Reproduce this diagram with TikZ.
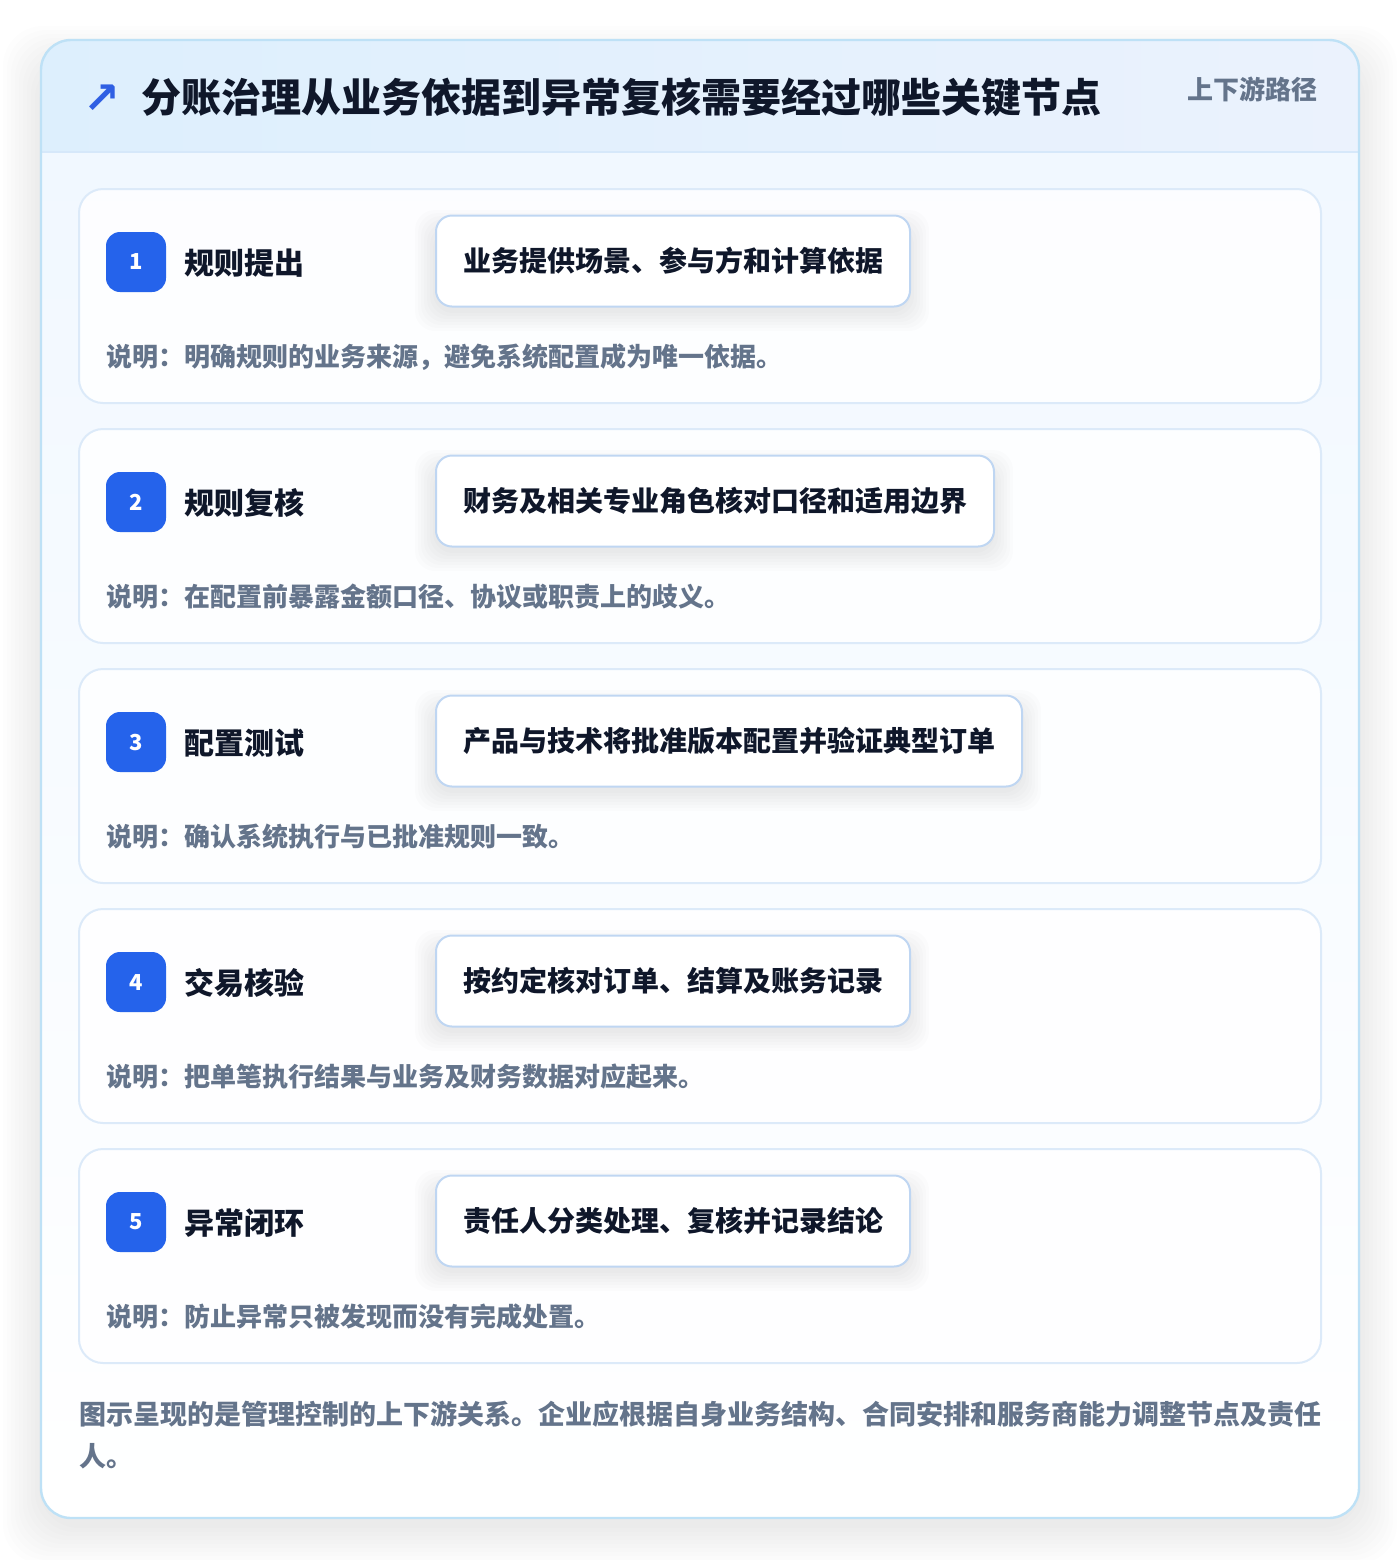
\documentclass[tikz,border=0pt]{standalone}
\usepackage{fontspec}
\setmainfont{Noto Sans CJK SC}
\newfontfamily\symfont{DejaVu Sans}

\definecolor{brandblue}{HTML}{2563EB}
\definecolor{arrowblue}{HTML}{2F5FE3}
\definecolor{inkdark}{HTML}{0F172A}
\definecolor{slategray}{HTML}{64748B}
\definecolor{cardline}{HTML}{DCEAF9}
\definecolor{boxline}{HTML}{BFD6F2}
\definecolor{frameline}{HTML}{BEE1F6}
\definecolor{headleft}{HTML}{DDEFFD}
\definecolor{headright}{HTML}{EBF2FD}
\definecolor{headline}{HTML}{D6E8FA}
\definecolor{bodytop}{HTML}{F1F8FF}
\definecolor{shadowgray}{HTML}{1E293B}

\begin{document}
\begin{tikzpicture}[x=0.5pt, y=-0.5pt,
  card/.style={draw=cardline, line width=1pt, fill=white, fill opacity=0.85, text opacity=1,
    rounded corners=12pt, minimum width=621pt, minimum height=107pt, inner sep=0pt},
  badge/.style={fill=brandblue, rounded corners=7pt, minimum size=30pt, inner sep=0pt,
    text=white, font=\fontsize{11pt}{13pt}\selectfont\bfseries},
  steptitle/.style={anchor=west, inner sep=0pt, text=inkdark, font=\fontsize{15pt}{18pt}\selectfont\bfseries},
  taskbox/.style={anchor=west, draw=boxline, line width=1pt, fill=white, rounded corners=8pt,
    minimum height=45.5pt, inner xsep=13.5pt, inner ysep=0pt, text=inkdark,
    font=\fontsize{14pt}{17pt}\selectfont\bfseries},
  boxshade/.style={fill=shadowgray, fill opacity=0.012, rounded corners=10pt},
  note/.style={anchor=west, inner sep=0pt, text=slategray, font=\fontsize{13pt}{15pt}\selectfont\bfseries},
  footnote/.style={anchor=west, inner sep=0pt, text=slategray, font=\fontsize{13.5pt}{16pt}\selectfont\bfseries}]
\useasboundingbox [fill=white] (0,0) rectangle (1400,1560);

% soft shadow under the frame
\foreach \s in {2,6,...,38}
  \fill [shadowgray, fill opacity=0.006, rounded corners=20pt]
    (41-\s,40-\s+24) rectangle (1359+\s,1518+\s+8);

% outer frame with header band
\fill [white, rounded corners=15pt] (41,40) rectangle (1359,1518);
\begin{scope}
\clip [rounded corners=15pt] (41,40) rectangle (1359,1518);
\shade [left color=headleft, right color=headright] (41,40) rectangle (1359,152);
\shade [top color=bodytop, bottom color=white] (41,152) rectangle (1359,1518);
\draw [headline, line width=1pt] (41,152) -- (1359,152);
\end{scope}
\draw [frameline, line width=1.2pt, rounded corners=15pt] (41,40) rectangle (1359,1518);

\node [text=arrowblue, inner sep=0pt, font=\symfont\fontsize{22pt}{24pt}\selectfont\bfseries] (icon) at (102,99) {↗};
\node [anchor=west, inner sep=0pt, text=inkdark, font=\fontsize{20pt}{24pt}\selectfont\bfseries] (title) at (141,97)
  {分账治理从业务依据到异常复核需要经过哪些关键节点};
\node [anchor=east, inner sep=0pt, text=slategray, font=\fontsize{13pt}{16pt}\selectfont\bfseries] (tag) at (1318,89) {上下游路径};

% step 1
\node [card] (card1) at (700,296) {};
\node [badge] (badge1) at (136,262) {1};
\node [steptitle] (name1) at (184,263) {规则提出};
\foreach \s in {2,5,...,20}
  \fill [boxshade] (435-\s,216-\s+14) rectangle (909+\s,307+\s+4);
\node [taskbox] (task1) at (435,261) {业务提供场景、参与方和计算依据};
\node [note] (note1) at (106,357) {说明：明确规则的业务来源，避免系统配置成为唯一依据。};

% step 2
\node [card] (card2) at (700,536) {};
\node [badge] (badge2) at (136,502) {2};
\node [steptitle] (name2) at (184,503) {规则复核};
\foreach \s in {2,5,...,20}
  \fill [boxshade] (435-\s,456-\s+14) rectangle (993+\s,547+\s+4);
\node [taskbox] (task2) at (435,501) {财务及相关专业角色核对口径和适用边界};
\node [note] (note2) at (106,597) {说明：在配置前暴露金额口径、协议或职责上的歧义。};

% step 3
\node [card] (card3) at (700,776) {};
\node [badge] (badge3) at (136,742) {3};
\node [steptitle] (name3) at (184,743) {配置测试};
\foreach \s in {2,5,...,20}
  \fill [boxshade] (435-\s,696-\s+14) rectangle (1021+\s,787+\s+4);
\node [taskbox] (task3) at (435,741) {产品与技术将批准版本配置并验证典型订单};
\node [note] (note3) at (106,837) {说明：确认系统执行与已批准规则一致。};

% step 4
\node [card] (card4) at (700,1016) {};
\node [badge] (badge4) at (136,982) {4};
\node [steptitle] (name4) at (184,983) {交易核验};
\foreach \s in {2,5,...,20}
  \fill [boxshade] (435-\s,936-\s+14) rectangle (909+\s,1027+\s+4);
\node [taskbox] (task4) at (435,981) {按约定核对订单、结算及账务记录};
\node [note] (note4) at (106,1077) {说明：把单笔执行结果与业务及财务数据对应起来。};

% step 5
\node [card] (card5) at (700,1256) {};
\node [badge] (badge5) at (136,1222) {5};
\node [steptitle] (name5) at (184,1223) {异常闭环};
\foreach \s in {2,5,...,20}
  \fill [boxshade] (435-\s,1176-\s+14) rectangle (909+\s,1267+\s+4);
\node [taskbox] (task5) at (435,1221) {责任人分类处理、复核并记录结论};
\node [note] (note5) at (106,1317) {说明：防止异常只被发现而没有完成处置。};

% closing remark
\node [footnote] (remark1) at (79,1414) {图示呈现的是管理控制的上下游关系。企业应根据自身业务结构、合同安排和服务商能力调整节点及责任};
\node [footnote] (remark2) at (79,1456) {人。};
\end{tikzpicture}
\end{document}
